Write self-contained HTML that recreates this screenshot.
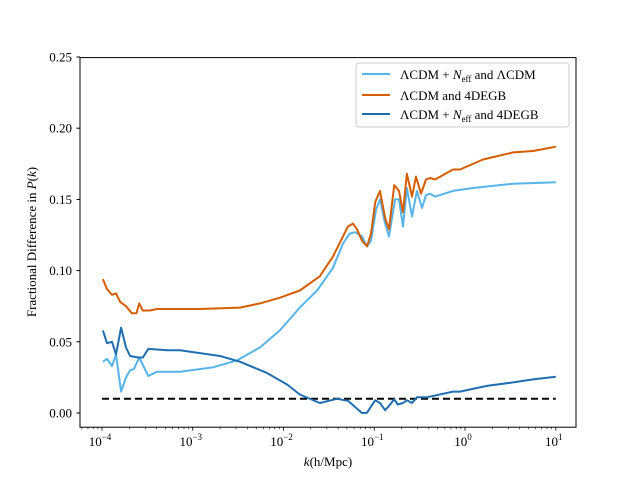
<!DOCTYPE html>
<html><head><meta charset="utf-8"><style>
html,body{margin:0;padding:0;background:#fff}
svg{display:block}
text{font-family:"Liberation Serif",serif;fill:#000}
</style></head><body>
<svg id="chart" width="640" height="480" viewBox="0 0 640 480">
<rect x="0" y="0" width="640" height="480" fill="#fff"/>
<g id="plot"></g>
<rect x="80" y="57.6" width="496" height="369.6" fill="none" stroke="#000" stroke-width="1"/>
<g id="xticks"></g>
<g id="yticks"></g>
<text x="328" y="466" text-anchor="middle" font-size="13"><tspan font-style="italic">k</tspan>(h/Mpc)</text>
<text transform="translate(36,242) rotate(-90)" text-anchor="middle" font-size="13">Fractional Difference in <tspan font-style="italic">P</tspan>(<tspan font-style="italic">k</tspan>)</text>
<g>
<rect x="356" y="63" width="213" height="64" rx="3" fill="#fff" fill-opacity="0.8" stroke="#ccc"/>
<line x1="362" y1="74" x2="390" y2="74" stroke="#56b4e9" stroke-width="2"/>
<text x="400" y="79" font-size="13">ΛCDM + <tspan font-style="italic">N</tspan><tspan font-size="9" dy="3">eff</tspan><tspan dy="-3"> and ΛCDM</tspan></text>
<line x1="362" y1="95" x2="390" y2="95" stroke="#d55e00" stroke-width="2"/>
<text x="400" y="100" font-size="13">ΛCDM and 4DEGB</text>
<line x1="362" y1="114" x2="390" y2="114" stroke="#1f6fb0" stroke-width="2"/>
<text x="400" y="119" font-size="13">ΛCDM + <tspan font-style="italic">N</tspan><tspan font-size="9" dy="3">eff</tspan><tspan dy="-3"> and 4DEGB</tspan></text>
</g>
</svg>
<script>
const yTicks=[0,0.05,0.10,0.15,0.20,0.25];
const yTickLabels=["0.00","0.05","0.10","0.15","0.20","0.25"];
const xDecades=[-4,-3,-2,-1,0,1];
const xTickLabels=["10","10","10","10","10","10"];
const xTickExps=["−4","−3","−2","−1","0","1"];
const refLevel=0.01;
const orangeLogK=[-3.99,-3.945,-3.89,-3.846,-3.80,-3.736,-3.67,-3.62,-3.59,-3.55,-3.47,-3.394,-3.25,-2.92,-2.48,-2.26,-2.04,-1.82,-1.60,-1.455,-1.344,-1.29,-1.234,-1.19,-1.135,-1.08,-1.036,-0.99,-0.937,-0.88,-0.837,-0.78,-0.727,-0.683,-0.64,-0.584,-0.54,-0.485,-0.43,-0.386,-0.33,-0.132,-0.055,0.198,0.53,0.75,1.0];
const orangeVals=[0.094,0.087,0.083,0.084,0.078,0.075,0.070,0.070,0.077,0.072,0.072,0.073,0.073,0.073,0.074,0.077,0.081,0.086,0.096,0.110,0.124,0.131,0.133,0.129,0.121,0.117,0.126,0.148,0.156,0.137,0.129,0.160,0.156,0.141,0.168,0.152,0.166,0.154,0.164,0.165,0.164,0.171,0.171,0.178,0.183,0.184,0.187];
const lightLogK=[-3.99,-3.945,-3.89,-3.846,-3.79,-3.736,-3.69,-3.647,-3.59,-3.49,-3.394,-3.14,-2.78,-2.51,-2.26,-2.04,-1.82,-1.63,-1.455,-1.344,-1.27,-1.21,-1.135,-1.08,-1.036,-0.98,-0.937,-0.88,-0.837,-0.77,-0.727,-0.683,-0.64,-0.584,-0.53,-0.474,-0.43,-0.386,-0.33,-0.132,0.088,0.53,1.0];
const lightVals=[0.036,0.038,0.033,0.041,0.015,0.025,0.030,0.031,0.039,0.026,0.029,0.029,0.032,0.037,0.046,0.058,0.074,0.086,0.102,0.119,0.126,0.127,0.124,0.117,0.121,0.143,0.150,0.133,0.124,0.150,0.150,0.131,0.158,0.138,0.156,0.144,0.153,0.154,0.152,0.156,0.158,0.161,0.162];
const darkLogK=[-3.99,-3.945,-3.89,-3.846,-3.79,-3.736,-3.69,-3.60,-3.55,-3.49,-3.28,-3.14,-2.70,-2.48,-2.18,-1.96,-1.82,-1.60,-1.41,-1.29,-1.135,-1.08,-0.99,-0.937,-0.88,-0.837,-0.78,-0.74,-0.683,-0.64,-0.584,-0.53,-0.42,-0.132,-0.055,0.24,0.53,0.75,1.0];
const darkVals=[0.058,0.049,0.050,0.041,0.060,0.046,0.040,0.039,0.039,0.045,0.044,0.044,0.040,0.036,0.028,0.020,0.013,0.007,0.010,0.0086,0.000,0.0002,0.009,0.007,0.002,0.005,0.0096,0.006,0.007,0.009,0.007,0.011,0.011,0.015,0.015,0.019,0.0215,0.0236,0.0255];

const NS='http://www.w3.org/2000/svg';
const X0=102,XD=90.75,Y0=413,YU=1424;
function xs(lk){return X0+(lk+4)*XD;}
function ys(v){return Y0-v*YU;}
function mk(tag,attrs,parent){const e=document.createElementNS(NS,tag);for(const k in attrs)e.setAttribute(k,attrs[k]);parent.appendChild(e);return e;}
const plot=document.getElementById('plot');
const xt=document.getElementById('xticks');
const yt=document.getElementById('yticks');

let ref=mk('line',{x1:xs(-4),x2:xs(1),y1:ys(refLevel),y2:ys(refLevel),stroke:'#000','stroke-width':2,'stroke-dasharray':'7,4'},plot);



function series(lk,vals,color,name){
  const d=lk.map((l,i)=>(i?'L':'M')+xs(l).toFixed(1)+','+ys(vals[i]).toFixed(1)).join(' ');
  const p=mk('path',{d:d,fill:'none',stroke:color,'stroke-width':2,'stroke-linejoin':'round'},plot);
  
  
}
series(lightLogK,lightVals,'#56b4e9','series-lcdm-neff-vs-lcdm');
series(orangeLogK,orangeVals,'#d55e00','series-lcdm-vs-4degb');
series(darkLogK,darkVals,'#1f6fb0','series-lcdm-neff-vs-4degb');

yTicks.forEach((v,i)=>{
  const y=ys(v);
  const t=mk('line',{x1:76.5,x2:80,y1:y,y2:y,stroke:'#000'},yt);
  
  
  const tx=mk('text',{x:72,y:y+4.5,'text-anchor':'end','font-size':13},yt);
  tx.textContent=yTickLabels[i];
  
  
});
for(let d=-5;d<=1;d++){
  for(let m=1;m<10;m++){
    const lk=d+Math.log10(m);
    const x=xs(lk);
    if(x<80||x>576)continue;
    const len=m===1?3.5:2;
    const t=mk('line',{x1:x,x2:x,y1:427.2,y2:427.2+len,stroke:'#000','stroke-width':m===1?0.8:0.6},xt);
    
    
  }
}
xDecades.forEach((d,i)=>{
  const tx=mk('text',{x:xs(d)-2,y:446,'text-anchor':'middle','font-size':13},xt);
  tx.textContent=xTickLabels[i];
  const sp=document.createElementNS(NS,'tspan');
  sp.setAttribute('font-size','9');sp.setAttribute('dy','-6');
  sp.textContent=xTickExps[i];
  tx.appendChild(sp);
  
  
});
</script>
</body></html>
